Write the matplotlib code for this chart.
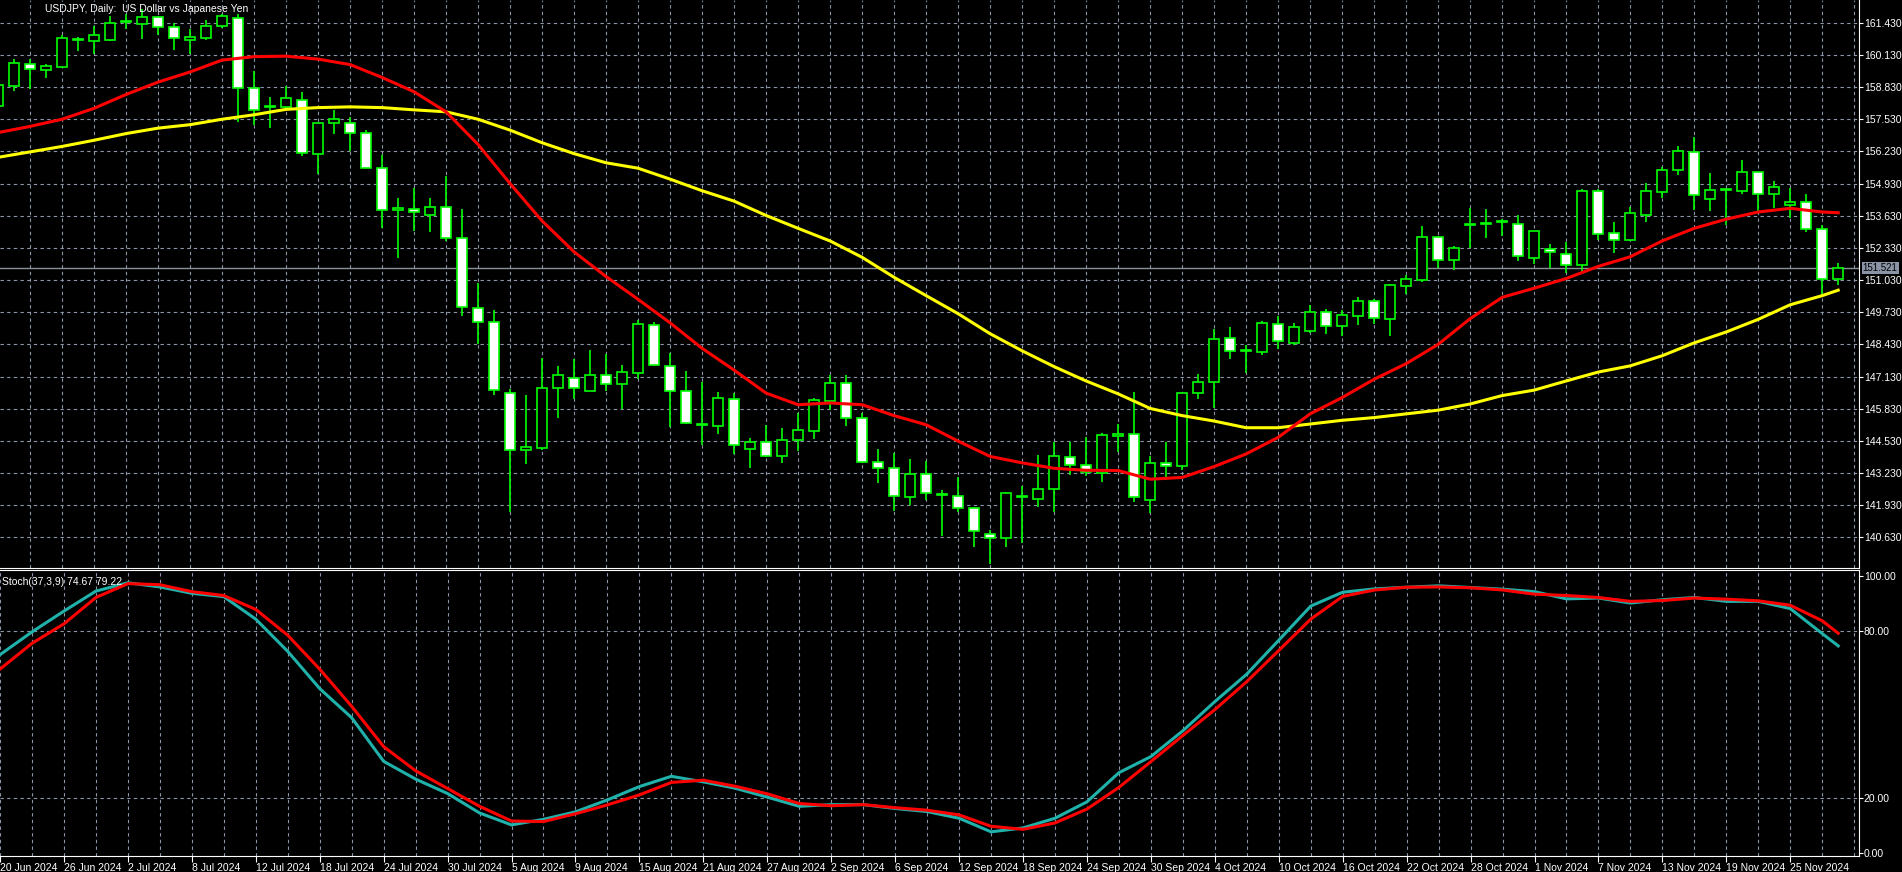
import matplotlib
matplotlib.use("Agg")
import matplotlib.pyplot as plt
import numpy as np
import pandas as pd

plt.rcParams["font.family"] = ["Liberation Sans", "DejaVu Sans"]

# daily USDJPY bars, 20 Jun 2024 .. 28 Nov 2024
opens = [158.06, 158.86, 159.77, 159.52, 159.64, 160.74, 160.69, 160.74, 161.46, 161.39,
         161.65, 161.24, 160.74, 160.83, 161.28, 161.61, 158.81, 158.03, 158.02, 158.30,
         156.11, 157.37, 157.37, 156.97, 155.55, 153.86, 153.92, 153.64, 154.00, 152.71,
         149.92, 149.34, 146.46, 144.15, 144.25, 146.65, 147.09, 146.53, 147.19, 146.83,
         147.27, 149.22, 147.55, 146.53, 145.17, 145.11, 146.21, 144.21, 144.47, 143.90,
         144.55, 144.92, 146.14, 146.87, 145.45, 143.68, 143.42, 142.24, 143.18, 142.34,
         142.31, 141.80, 140.77, 140.59, 142.27, 142.19, 142.59, 143.86, 143.56, 143.21,
         144.71, 144.80, 142.14, 143.62, 143.53, 146.46, 146.90, 148.68, 148.18, 148.12,
         149.25, 148.47, 148.97, 149.74, 149.18, 149.59, 150.20, 149.44, 150.80, 151.03,
         152.75, 151.83, 153.24, 153.30, 153.39, 153.31, 151.94, 152.27, 152.09, 151.62,
         154.64, 152.92, 152.65, 153.67, 154.58, 155.47, 156.21, 154.30, 154.65, 154.64,
         155.39, 154.49, 154.08, 154.18, 153.08, 151.06]
highs = [159.00, 159.96, 159.96, 159.77, 160.92, 160.87, 161.28, 161.72, 161.77, 161.97,
         161.72, 161.43, 161.18, 161.53, 161.80, 161.77, 159.47, 158.44, 158.89, 158.64,
         157.39, 157.89, 157.64, 157.09, 156.09, 154.33, 154.75, 154.33, 155.24, 153.90,
         150.92, 149.80, 146.62, 146.39, 147.87, 147.56, 147.83, 148.22, 148.05, 147.61,
         149.40, 149.34, 148.08, 147.37, 146.90, 146.50, 146.47, 144.65, 145.18, 145.03,
         145.65, 146.25, 147.21, 147.21, 145.65, 144.22, 144.03, 143.78, 143.71, 142.53,
         143.05, 141.87, 140.92, 142.46, 142.71, 143.96, 144.50, 144.50, 144.67, 144.84,
         145.21, 146.50, 143.93, 144.50, 146.46, 147.24, 149.05, 149.15, 148.42, 149.37,
         149.58, 149.31, 150.03, 149.84, 149.80, 150.33, 150.27, 150.89, 151.25, 153.20,
         152.83, 152.42, 153.93, 153.90, 153.49, 153.64, 153.03, 152.50, 152.56, 154.71,
         154.71, 153.37, 153.97, 154.96, 155.59, 156.43, 156.83, 155.36, 154.72, 155.89,
         155.39, 155.03, 154.74, 154.49, 153.24, 151.72]
lows = [157.97, 158.68, 158.74, 159.18, 159.59, 160.28, 160.18, 160.68, 161.18, 160.77,
        160.92, 160.33, 160.18, 160.74, 161.21, 157.42, 157.31, 157.17, 157.90, 156.06,
        155.33, 156.94, 156.24, 155.55, 153.12, 151.92, 153.03, 152.97, 152.61, 149.56,
        148.44, 146.40, 141.65, 143.59, 144.15, 145.45, 146.24, 146.53, 146.53, 145.83,
        147.02, 147.56, 145.08, 145.21, 144.37, 144.81, 144.00, 143.42, 143.89, 143.64,
        144.12, 144.62, 145.77, 145.11, 143.64, 142.83, 141.68, 141.92, 142.15, 140.68,
        141.65, 140.25, 139.55, 140.25, 140.40, 141.86, 141.65, 143.15, 143.12, 142.86,
        144.08, 142.05, 141.61, 142.95, 143.37, 146.24, 145.84, 147.83, 147.28, 148.00,
        148.24, 148.42, 148.89, 148.86, 148.78, 149.22, 149.25, 148.78, 150.45, 150.96,
        151.50, 151.43, 152.34, 152.74, 152.80, 151.80, 151.68, 151.53, 151.33, 151.28,
        152.65, 152.14, 152.61, 153.39, 154.33, 155.28, 153.86, 153.83, 153.27, 154.52,
        153.78, 153.93, 153.53, 152.97, 150.44, 150.84]
closes = [158.90, 159.81, 159.56, 159.67, 160.80, 160.77, 160.92, 161.44, 161.47, 161.65,
          161.24, 160.83, 160.84, 161.28, 161.69, 158.81, 157.90, 158.06, 158.37, 156.16,
          157.39, 157.53, 156.97, 155.55, 153.86, 153.93, 153.77, 154.00, 152.71, 149.96,
          149.34, 146.58, 144.15, 144.27, 146.68, 147.19, 146.68, 147.19, 146.83, 147.31,
          149.25, 147.59, 146.53, 145.24, 145.20, 146.25, 144.36, 144.50, 143.90, 144.55,
          144.96, 146.18, 146.87, 145.45, 143.68, 143.42, 142.31, 143.19, 142.44, 142.37,
          141.80, 140.87, 140.59, 142.42, 142.31, 142.59, 143.90, 143.56, 143.27, 144.75,
          144.80, 142.24, 143.62, 143.53, 146.46, 146.90, 148.65, 148.18, 148.21, 149.30,
          148.56, 149.15, 149.74, 149.18, 149.62, 150.20, 149.50, 150.84, 151.09, 152.75,
          151.83, 152.34, 153.28, 153.34, 153.42, 152.02, 153.00, 152.17, 151.62, 154.64,
          152.90, 152.64, 153.74, 154.62, 155.47, 156.24, 154.45, 154.67, 154.68, 155.39,
          154.49, 154.78, 154.18, 153.08, 151.06, 151.52]

# moving averages read at every second bar (plus last bar)
ma_idx = list(range(0, 116, 2)) + [115]
ma_red = [156.99, 157.24, 157.53, 157.97, 158.53, 159.03, 159.44, 159.92, 160.06, 160.08,
          159.96, 159.74, 159.22, 158.64, 157.83, 156.51, 154.93, 153.42, 152.17, 151.17,
          150.25, 149.30, 148.27, 147.39, 146.46, 145.99, 146.06, 145.99, 145.55, 145.18,
          144.52, 143.90, 143.64, 143.42, 143.34, 143.33, 142.98, 143.05, 143.49, 144.00,
          144.67, 145.62, 146.28, 147.02, 147.65, 148.43, 149.47, 150.33, 150.70, 151.09,
          151.58, 151.97, 152.61, 153.12, 153.49, 153.78, 153.93, 153.78, 153.75]
ma_yellow = [155.99, 156.21, 156.43, 156.68, 156.95, 157.17, 157.31, 157.53, 157.71, 157.93,
             158.00, 158.03, 158.00, 157.91, 157.83, 157.53, 157.09, 156.58, 156.14, 155.77,
             155.55, 155.11, 154.64, 154.22, 153.64, 153.12, 152.61, 151.95, 151.14, 150.40,
             149.67, 148.86, 148.17, 147.53, 146.95, 146.43, 145.84, 145.55, 145.33, 145.06,
             145.06, 145.21, 145.36, 145.47, 145.62, 145.77, 146.02, 146.36, 146.58, 146.95,
             147.31, 147.56, 147.97, 148.49, 148.93, 149.44, 150.03, 150.40, 150.62]

# stochastic (37,3,9)
st_main = [71.5, 79.7, 87.2, 94.4, 97.4, 95.9, 93.6, 92.4, 84.3, 72.7,
           59.3, 48.8, 33.1, 26.7, 21.5, 14.5, 10.2, 12.2, 14.9, 19.2,
           24.0, 27.7, 25.7, 23.4, 20.2, 16.9, 17.5, 17.5, 16.1, 15.0,
           12.6, 7.7, 9.1, 12.6, 18.5, 29.0, 34.8, 44.1, 54.6, 64.5,
           76.7, 89.0, 94.0, 95.2, 95.8, 96.3, 95.7, 95.1, 94.2, 91.6,
           91.9, 90.1, 91.3, 92.1, 90.7, 90.7, 88.1, 79.1, 74.67]
st_signal = [66.3, 75.6, 82.6, 92.1, 97.1, 96.7, 94.2, 92.8, 87.8, 78.5,
             66.3, 52.9, 38.4, 29.7, 23.3, 16.9, 11.6, 11.4, 14.2, 17.4,
             21.0, 25.5, 26.3, 24.1, 21.4, 17.9, 17.1, 17.5, 16.4, 15.5,
             13.8, 9.7, 8.6, 10.9, 15.9, 23.7, 33.0, 42.4, 51.7, 61.8,
             73.0, 84.3, 92.5, 94.8, 95.8, 95.9, 95.6, 94.8, 93.3, 92.8,
             92.1, 90.7, 91.0, 91.9, 91.5, 90.9, 89.3, 83.7, 79.22]

last_price = 151.521
price_ticks = [140.63 + 1.3 * k for k in range(17)]
dates = pd.bdate_range("2024-06-20", "2024-11-28")

W, H = 1902, 872
fig = plt.figure(figsize=(W / 100, H / 100), dpi=100, facecolor="black")
right = 1859 / W
ax = fig.add_axes([0, 1 - 568 / H, right, 568 / H], facecolor="black")
ax2 = fig.add_axes([0, 1 - 856 / H, right, (856 - 570) / H], facecolor="black")

gridc = "#8c96a8"
fs = 7.5
n = len(opens)
x = np.arange(n)
o = np.array(opens); c = np.array(closes)

for a in (ax, ax2):
    a.set_xlim(0.125, 116.3)
    for s in a.spines.values():
        s.set_color("white")
    a.spines["left"].set_visible(False)
    a.spines["top"].set_visible(a is ax2)
    for xv in range(0, n + 1, 2):
        a.axvline(xv, color=gridc, lw=0.8, ls=(0, (3, 3)), zorder=0)

# candles
ax.vlines(x, lows, highs, color="#00ff00", lw=1.2, zorder=2)
up = c >= o
bottom = np.minimum(o, c)
height = np.maximum(np.abs(c - o), 0.04)
ax.bar(x, height, 0.6, bottom=bottom, color=np.where(up, "black", "white"),
       edgecolor="#00ff00", linewidth=1.2, zorder=3)

ax.plot(ma_idx, ma_yellow, color="#ffff00", lw=2.2, zorder=4)
ax.plot(ma_idx, ma_red, color="#ff0000", lw=2.2, zorder=4)

ax.set_ylim(139.39, 162.35)
for p in price_ticks:
    ax.axhline(p, color=gridc, lw=0.8, ls=(0, (3, 3)), zorder=0)
ax.axhline(last_price, color="#8a8f98", lw=1, zorder=1)
ax.yaxis.tick_right()
ax.set_yticks(price_ticks)
ax.set_yticklabels([f"{p:.3f}" for p in price_ticks])
ax.tick_params(axis="y", colors="white", labelsize=fs, length=3, pad=0.5)
ax.set_xticks([])
ax.text(1.002, last_price, f"{last_price:.3f}", transform=ax.get_yaxis_transform(),
        color="black", fontsize=7, va="center", ha="left",
        bbox=dict(boxstyle="square,pad=0.1", fc="#8a94a6", ec="none"))
ax.text(0.024, 0.993, "USDJPY, Daily:  US Dollar vs Japanese Yen", transform=ax.transAxes,
        color="white", fontsize=fs, va="top", ha="left")

# stochastic pane
ax2.plot(ma_idx, st_main, color="#20b2aa", lw=2.2)
ax2.plot(ma_idx, st_signal, color="#ff0000", lw=2.2)
ax2.set_ylim(-1, 102)
for v in (20, 80):
    ax2.axhline(v, color=gridc, lw=0.8, ls=(0, (3, 3)), zorder=0)
ax2.yaxis.tick_right()
ax2.set_yticks([0, 20, 80, 100])
ax2.set_yticklabels(["0.00", "20.00", "80.00", "100.00"])
ax2.tick_params(axis="y", colors="white", labelsize=fs, length=3, pad=0.5)
lab_idx = list(range(0, n, 4))
ax2.set_xticks(lab_idx)
ax2.set_xticklabels([f"{dates[i].day} {dates[i]:%b %Y}" for i in lab_idx], ha="left")
ax2.tick_params(axis="x", colors="white", labelsize=fs, length=4, pad=1)
ax2.text(0.001, 0.975, "Stoch(37,3,9) 74.67 79.22", transform=ax2.transAxes,
         color="white", fontsize=fs, va="top", ha="left")

fig.savefig("out.png", dpi=100, facecolor="black")
